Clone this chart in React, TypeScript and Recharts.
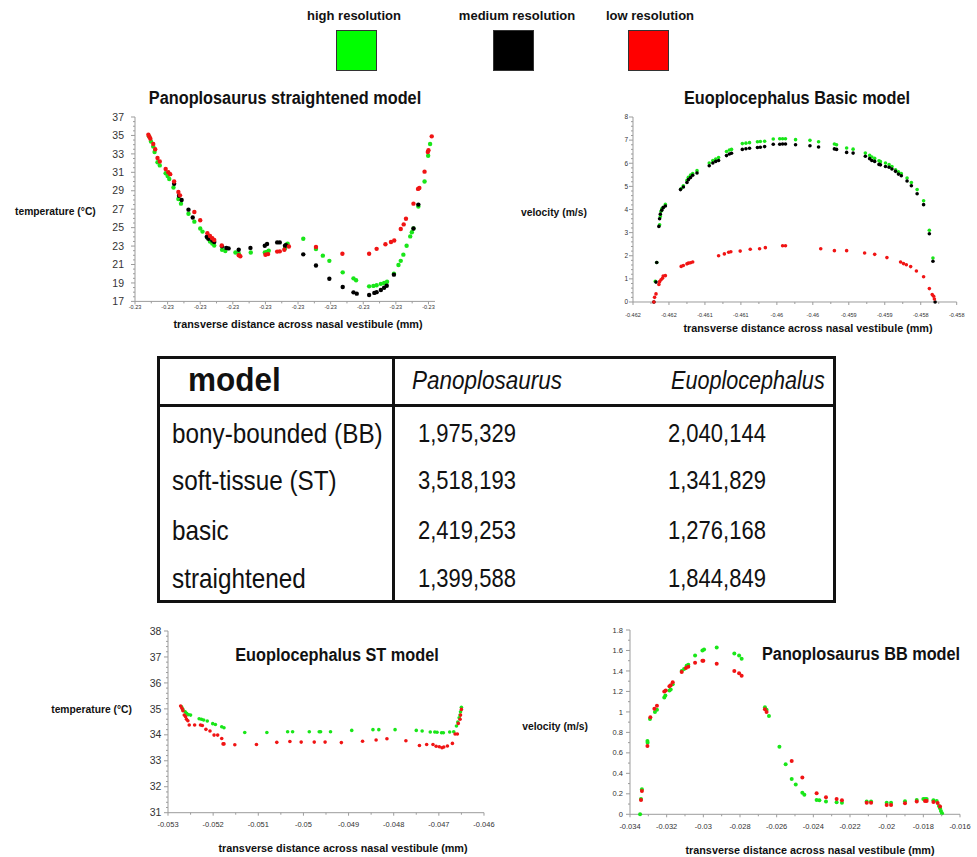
import { ScatterChart, Scatter, XAxis, YAxis } from 'recharts';

type Pt = [number, number];

const AXIS = '#9c9c9c';
const INK = '#333';
const GREEN = '#19e619';
const BLACK = '#000000';
const RED = '#f01414';
const SANS = '"Liberation Sans", Arial, sans-serif';

// ---- Panoplosaurus straightened model: temperature (°C) ----
const straightXTicks = [-0.2309, -0.2308, -0.2307, -0.2306, -0.2305, -0.2304, -0.2303, -0.2302, -0.2301, -0.23];
const straightXLabels = ['-0.23', '-0.23', '-0.23', '-0.23', '-0.23', '-0.23', '-0.23', '-0.23', '-0.23', '-0.23'];
const straightYTicks = [17, 19, 21, 23, 25, 27, 29, 31, 33, 35, 37];
const straightYLabels = ['17', '19', '21', '23', '25', '27', '29', '31', '33', '35', '37'];

const straightHigh: Pt[] = [
  [-0.230857, 34.9], [-0.230851, 34.35], [-0.230844, 33.8], [-0.23084, 33.2], [-0.230831, 32.1],
  [-0.230824, 31.75], [-0.230806, 30.9], [-0.2308, 30.6], [-0.230795, 30.27], [-0.230782, 29.36],
  [-0.230767, 28.1], [-0.230759, 27.6], [-0.230736, 26.5], [-0.230718, 25.65], [-0.2307, 24.9],
  [-0.230693, 24.57], [-0.230678, 23.9], [-0.23067, 23.5], [-0.230663, 23.27], [-0.230657, 23.05],
  [-0.230633, 22.6], [-0.230623, 22.46], [-0.230592, 22.3], [-0.230582, 22.2], [-0.230545, 22.3],
  [-0.230502, 22.3], [-0.230496, 22.35], [-0.23049, 22.5], [-0.23044, 22.75], [-0.230435, 23.18],
  [-0.230432, 23.25], [-0.230384, 23.8], [-0.230345, 22.68], [-0.230324, 21.96], [-0.230304, 21.4],
  [-0.230263, 20.15], [-0.23023, 19.5], [-0.230222, 19.3], [-0.230182, 18.63], [-0.230169, 18.68],
  [-0.230159, 18.75], [-0.230146, 18.9], [-0.230136, 19.0], [-0.230127, 19.13], [-0.230106, 20.0],
  [-0.230092, 20.95], [-0.230085, 21.4], [-0.230077, 22.07], [-0.230067, 23.04], [-0.230056, 24.05],
  [-0.230051, 24.5], [-0.230046, 24.9], [-0.230031, 27.3], [-0.230012, 30.0], [-0.230001, 32.8],
  [-0.229995, 34.07],
];
const straightMedium: Pt[] = [
  [-0.23078, 29.75], [-0.230765, 28.46], [-0.230757, 28.0], [-0.230736, 26.95], [-0.230723, 26.1],
  [-0.23068, 24.0], [-0.230675, 23.8], [-0.230663, 23.6], [-0.230657, 23.45], [-0.230633, 22.97],
  [-0.23062, 22.8], [-0.230613, 22.75], [-0.230582, 22.6], [-0.230546, 22.8], [-0.230502, 23.04],
  [-0.230495, 23.23], [-0.230464, 23.4], [-0.230456, 23.4], [-0.23044, 23.04], [-0.230437, 23.1],
  [-0.230384, 22.1], [-0.230345, 20.9], [-0.230304, 19.46], [-0.230263, 18.56], [-0.23023, 17.98],
  [-0.23022, 17.84], [-0.230182, 17.7], [-0.230166, 17.92], [-0.230159, 18.0], [-0.230146, 18.24],
  [-0.230136, 18.48], [-0.230128, 18.7], [-0.230106, 19.9], [-0.230046, 24.9], [-0.230031, 27.5],
];
const straightLow: Pt[] = [
  [-0.230859, 35.08], [-0.230856, 34.85], [-0.230853, 34.65], [-0.230844, 34.07], [-0.230838, 33.5],
  [-0.230831, 32.55], [-0.230824, 32.18], [-0.230806, 31.36], [-0.230798, 31.0], [-0.230792, 30.8],
  [-0.23078, 30.0], [-0.230767, 28.87], [-0.230762, 28.5], [-0.230718, 26.7], [-0.2307, 25.8],
  [-0.230678, 24.4], [-0.23067, 24.1], [-0.230663, 23.85], [-0.230657, 23.66], [-0.230634, 23.07],
  [-0.230582, 22.0], [-0.230577, 21.9], [-0.2305, 22.06], [-0.230492, 22.13], [-0.230464, 22.4],
  [-0.230456, 22.43], [-0.230442, 22.6], [-0.230428, 22.95], [-0.230345, 22.9], [-0.230264, 22.17],
  [-0.230182, 22.17], [-0.230159, 22.7], [-0.230132, 23.2], [-0.230115, 23.44], [-0.230105, 23.6],
  [-0.230085, 24.85], [-0.230076, 25.35], [-0.230069, 25.97], [-0.230046, 27.6], [-0.230032, 29.2],
  [-0.230028, 29.3], [-0.230012, 31.07], [-0.230002, 33.2], [-0.2300, 33.4], [-0.22999, 34.9],
];

// ---- Euoplocephalus basic model: velocity (m/s) ----
const basicXTicks = [-0.462, -0.4615, -0.461, -0.4605, -0.46, -0.4595, -0.459, -0.4585, -0.458, -0.4575];
const basicXLabels = ['-0.462', '-0.462', '-0.461', '-0.461', '-0.46', '-0.46', '-0.459', '-0.459', '-0.458', '-0.458'];
const basicYTicks = [0, 1, 2, 3, 4, 5, 6, 7, 8];
const basicYLabels = ['0', '1', '2', '3', '4', '5', '6', '7', '8'];

const basicHigh: Pt[] = [
  [-0.46169, 0.89], [-0.46167, 1.71], [-0.46163, 3.34], [-0.46162, 3.7], [-0.46161, 3.92],
  [-0.4616, 4.03], [-0.46158, 4.1], [-0.46155, 4.22], [-0.46133, 4.91], [-0.4613, 5.03],
  [-0.46125, 5.26], [-0.46123, 5.39], [-0.4612, 5.49], [-0.46117, 5.56], [-0.46111, 5.68],
  [-0.46094, 6.01], [-0.46089, 6.12], [-0.46085, 6.18], [-0.46081, 6.25], [-0.4607, 6.51],
  [-0.46066, 6.57], [-0.46063, 6.6], [-0.46048, 6.85], [-0.46043, 6.87], [-0.46038, 6.89],
  [-0.46027, 6.93], [-0.46023, 6.94], [-0.46017, 6.95], [-0.46005, 7.05], [-0.45996, 7.06],
  [-0.45992, 7.06], [-0.45988, 7.06], [-0.45974, 7.02], [-0.45954, 6.99], [-0.45942, 6.93],
  [-0.4592, 6.83], [-0.45917, 6.8], [-0.45903, 6.66], [-0.45894, 6.61], [-0.45877, 6.44],
  [-0.45871, 6.34], [-0.45868, 6.27], [-0.45864, 6.21], [-0.45858, 6.11], [-0.45856, 6.07],
  [-0.45849, 6.01], [-0.45844, 5.94], [-0.4584, 5.86], [-0.45835, 5.72], [-0.45831, 5.63],
  [-0.45827, 5.55], [-0.45819, 5.36], [-0.45813, 5.17], [-0.45805, 4.86], [-0.45796, 4.38],
  [-0.45788, 3.1], [-0.45783, 1.9],
];
const basicMedium: Pt[] = [
  [-0.46171, 0], [-0.46168, 0.86], [-0.46167, 1.71], [-0.46164, 3.27], [-0.46163, 3.6],
  [-0.46162, 3.8], [-0.4616, 3.97], [-0.46158, 4.08], [-0.46155, 4.15], [-0.46134, 4.86],
  [-0.4613, 4.97], [-0.46125, 5.17], [-0.46123, 5.29], [-0.4612, 5.38], [-0.46117, 5.48],
  [-0.46111, 5.58], [-0.46094, 5.89], [-0.46089, 6.01], [-0.46085, 6.08], [-0.46081, 6.12],
  [-0.4607, 6.33], [-0.46066, 6.4], [-0.46063, 6.43], [-0.46048, 6.6], [-0.46043, 6.63],
  [-0.46038, 6.65], [-0.46027, 6.68], [-0.46023, 6.69], [-0.46017, 6.72], [-0.46005, 6.82],
  [-0.45996, 6.82], [-0.45992, 6.83], [-0.45988, 6.83], [-0.45974, 6.8], [-0.45954, 6.76],
  [-0.45942, 6.7], [-0.4592, 6.62], [-0.45917, 6.6], [-0.45903, 6.47], [-0.45894, 6.44],
  [-0.45877, 6.3], [-0.45871, 6.2], [-0.45868, 6.12], [-0.45864, 6.08], [-0.45858, 5.95],
  [-0.45856, 5.93], [-0.45849, 5.86], [-0.45844, 5.83], [-0.4584, 5.75], [-0.45835, 5.65],
  [-0.45831, 5.53], [-0.45827, 5.46], [-0.45819, 5.23], [-0.45813, 5.03], [-0.45805, 4.68],
  [-0.45796, 4.21], [-0.45788, 2.95], [-0.45783, 1.76], [-0.4578, 0],
];
const basicLow: Pt[] = [
  [-0.46171, 0], [-0.4617, 0.2], [-0.46168, 0.35], [-0.46164, 0.76], [-0.46163, 0.88],
  [-0.46161, 0.96], [-0.46159, 1.03], [-0.46158, 1.12], [-0.46155, 1.14], [-0.46133, 1.54],
  [-0.4613, 1.58], [-0.46125, 1.65], [-0.46123, 1.68], [-0.4612, 1.7], [-0.46117, 1.73],
  [-0.46081, 2.0], [-0.46073, 2.08], [-0.46067, 2.15], [-0.46064, 2.17], [-0.46051, 2.2],
  [-0.46037, 2.28], [-0.46024, 2.3], [-0.46016, 2.35], [-0.45992, 2.43], [-0.45988, 2.43],
  [-0.45939, 2.3], [-0.4592, 2.22], [-0.45903, 2.22], [-0.45878, 2.12], [-0.45864, 2.06],
  [-0.45847, 1.92], [-0.45828, 1.73], [-0.45824, 1.66], [-0.4582, 1.61], [-0.45814, 1.53],
  [-0.45806, 1.34], [-0.45796, 1.09], [-0.45788, 0.58], [-0.45784, 0.32], [-0.45782, 0.25],
  [-0.45781, 0.13],
];

// ---- Euoplocephalus ST model: temperature (°C) ----
const stXTicks = [-0.053, -0.052, -0.051, -0.05, -0.049, -0.048, -0.047, -0.046];
const stXLabels = ['-0.053', '-0.052', '-0.051', '-0.05', '-0.049', '-0.048', '-0.047', '-0.046'];
const stYTicks = [31, 32, 33, 34, 35, 36, 37, 38];
const stYLabels = ['31', '32', '33', '34', '35', '36', '37', '38'];

const stHigh: Pt[] = [
  [-0.0527, 35.08], [-0.05267, 34.98], [-0.05262, 34.89], [-0.05259, 34.83], [-0.05255, 34.78],
  [-0.0525, 34.76], [-0.05231, 34.62], [-0.05226, 34.6], [-0.05221, 34.57], [-0.05213, 34.53],
  [-0.05201, 34.43], [-0.05195, 34.4], [-0.05181, 34.31], [-0.05176, 34.27], [-0.0513, 34.09],
  [-0.05081, 34.09], [-0.05035, 34.12], [-0.05024, 34.12], [-0.04987, 34.12], [-0.04965, 34.12],
  [-0.04962, 34.12], [-0.0494, 34.12], [-0.04893, 34.17], [-0.04846, 34.2], [-0.04833, 34.2],
  [-0.04797, 34.2], [-0.0475, 34.17], [-0.04737, 34.15], [-0.04719, 34.11], [-0.04709, 34.11],
  [-0.04704, 34.1], [-0.04694, 34.08], [-0.0469, 34.08], [-0.04676, 34.11], [-0.04667, 34.12],
  [-0.04661, 34.34], [-0.04658, 34.49], [-0.04655, 34.66], [-0.04653, 34.76], [-0.04652, 34.89],
  [-0.0465, 35.06],
];
const stLow: Pt[] = [
  [-0.05272, 35.11], [-0.05269, 35.02], [-0.05267, 34.93], [-0.05264, 34.76], [-0.05261, 34.7],
  [-0.05259, 34.6], [-0.05256, 34.54], [-0.05253, 34.38], [-0.05241, 34.38], [-0.05228, 34.38],
  [-0.05224, 34.36], [-0.05216, 34.21], [-0.05207, 34.15], [-0.05198, 33.99], [-0.0519, 33.99],
  [-0.05181, 33.86], [-0.05178, 33.65], [-0.05176, 33.65], [-0.05152, 33.62], [-0.05104, 33.63],
  [-0.05059, 33.71], [-0.0503, 33.74], [-0.05005, 33.72], [-0.04976, 33.72], [-0.04952, 33.72],
  [-0.04916, 33.7], [-0.04869, 33.75], [-0.04839, 33.8], [-0.04815, 33.85], [-0.04773, 33.77],
  [-0.04743, 33.59], [-0.04727, 33.63], [-0.04713, 33.63], [-0.04706, 33.56], [-0.04699, 33.54],
  [-0.04693, 33.5], [-0.04689, 33.53], [-0.04681, 33.57], [-0.0467, 33.67], [-0.04664, 34.03],
  [-0.04659, 34.03], [-0.04657, 34.44], [-0.04653, 34.6], [-0.04652, 34.76], [-0.0465, 34.98],
];

// ---- Panoplosaurus BB model: velocity (m/s) ----
const bbXTicks = [-0.034, -0.032, -0.03, -0.028, -0.026, -0.024, -0.022, -0.02, -0.018, -0.016];
const bbXLabels = ['-0.034', '-0.032', '-0.03', '-0.028', '-0.026', '-0.024', '-0.022', '-0.02', '-0.018', '-0.016'];
const bbYTicks = [0, 0.2, 0.4, 0.6, 0.8, 1, 1.2, 1.4, 1.6, 1.8];
const bbYLabels = ['0', '0.2', '0.4', '0.6', '0.8', '1', '1.2', '1.4', '1.6', '1.8'];

const bbHigh: Pt[] = [
  [-0.03345, 0], [-0.0334, 0.15], [-0.03335, 0.244], [-0.03305, 0.716], [-0.03304, 0.7],
  [-0.03291, 0.93], [-0.03264, 1.0], [-0.03253, 1.02], [-0.03213, 1.14], [-0.03207, 1.16],
  [-0.03185, 1.21], [-0.03178, 1.22], [-0.03167, 1.27], [-0.03118, 1.4], [-0.03105, 1.42],
  [-0.03091, 1.45], [-0.03082, 1.46], [-0.03045, 1.55], [-0.03005, 1.6], [-0.02996, 1.61],
  [-0.02927, 1.63], [-0.02831, 1.57], [-0.02805, 1.55], [-0.02791, 1.52], [-0.02664, 1.045],
  [-0.02655, 1.02], [-0.02642, 0.96], [-0.02585, 0.66], [-0.02551, 0.49], [-0.02518, 0.345],
  [-0.02496, 0.29], [-0.0246, 0.21], [-0.02449, 0.19], [-0.02382, 0.14], [-0.02367, 0.137],
  [-0.02331, 0.124], [-0.02273, 0.117], [-0.02244, 0.114], [-0.02109, 0.124], [-0.02085, 0.124],
  [-0.02, 0.114], [-0.01976, 0.114], [-0.019, 0.127], [-0.01836, 0.14], [-0.018, 0.15],
  [-0.01791, 0.15], [-0.01782, 0.15], [-0.01745, 0.137], [-0.01727, 0.13], [-0.01715, 0.08],
  [-0.01709, 0.06], [-0.01704, 0.033], [-0.01698, 0.01],
];
const bbLow: Pt[] = [
  [-0.0334, 0.14], [-0.03335, 0.228], [-0.03305, 0.667], [-0.03289, 0.947], [-0.03267, 1.03],
  [-0.03253, 1.06], [-0.03213, 1.2], [-0.03205, 1.21], [-0.03185, 1.25], [-0.03178, 1.26],
  [-0.03167, 1.29], [-0.03118, 1.39], [-0.03095, 1.43], [-0.03082, 1.44], [-0.03045, 1.48],
  [-0.03005, 1.5], [-0.03, 1.5], [-0.02927, 1.47], [-0.02831, 1.4], [-0.02805, 1.377],
  [-0.02791, 1.354], [-0.02664, 1.025], [-0.02655, 1.0], [-0.02518, 0.52], [-0.0246, 0.36],
  [-0.02382, 0.205], [-0.02331, 0.166], [-0.02273, 0.15], [-0.02244, 0.137], [-0.02109, 0.114],
  [-0.02085, 0.114], [-0.02, 0.09], [-0.01976, 0.09], [-0.019, 0.107], [-0.01836, 0.124],
  [-0.01791, 0.13], [-0.01782, 0.13], [-0.01745, 0.12], [-0.01722, 0.11], [-0.01709, 0.075],
];

// ---- mesh sizes table ----
const meshModels = ['bony-bounded (BB)', 'soft-tissue (ST)', 'basic', 'straightened'];
const meshPanoplosaurus = ['1,975,329', '3,518,193', '2,419,253', '1,399,588'];
const meshEuoplocephalus = ['2,040,144', '1,341,829', '1,276,168', '1,844,849'];

const legendItems = [
  { label: 'high resolution', color: '#00ff00', cx: 354, box: 336 },
  { label: 'medium resolution', color: '#000000', cx: 517, box: 493 },
  { label: 'low resolution', color: '#ff0000', cx: 650, box: 628 },
];

// subdivide each major interval into (per + 1) steps
function minorTicks(major: number[], per: number) {
  const out: number[] = [];
  for (let i = 0; i < major.length - 1; i++) {
    const step = (major[i + 1] - major[i]) / (per + 1);
    for (let k = 1; k <= per; k++) out.push(major[i] + step * k);
  }
  return out;
}

type Series = { name: string; data: Pt[]; color: string };

type PanelProps = {
  plotLeft: number;
  plotTop: number;
  plotW: number;
  plotH: number;
  xDomain: [number, number];
  yDomain: [number, number];
  xTicks: number[];
  xLabels: string[];
  xMinor: number;
  yTicks: number[];
  yLabels: string[];
  yMinor: number;
  xFont: number;
  yFont: number;
  xGap: number;
  yGap: number;
  r: number;
  series: Series[];
};

const PAD_L = 45;
const PAD_T = 10;
const PAD_R = 16;
const PAD_B = 30;

function Panel(p: PanelProps) {
  const xAll = [...p.xTicks, ...minorTicks(p.xTicks, p.xMinor)].sort((a, b) => a - b);
  const yAll = [...p.yTicks, ...minorTicks(p.yTicks, p.yMinor)].sort((a, b) => a - b);
  const find = (arr: number[], v: number) => arr.findIndex((m) => Math.abs(m - v) < 1e-10);

  const xTick = (t: any) => {
    const i = find(p.xTicks, t.payload.value);
    return (
      <g>
        <line x1={t.x} x2={t.x} y1={t.y} y2={t.y + (i >= 0 ? 3 : 2)} stroke={AXIS} />
        {i >= 0 && (
          <text x={t.x} y={t.y + p.xGap} dy="0.35em" textAnchor="middle" fontSize={p.xFont} fill={INK} fontFamily={SANS}>
            {p.xLabels[i]}
          </text>
        )}
      </g>
    );
  };
  const yTick = (t: any) => {
    const i = find(p.yTicks, t.payload.value);
    return (
      <g>
        <line x1={t.x - (i >= 0 ? 4 : 2)} x2={t.x} y1={t.y} y2={t.y} stroke={AXIS} />
        {i >= 0 && (
          <text x={t.x - p.yGap} y={t.y} dy="0.35em" textAnchor="end" fontSize={p.yFont} fill={INK} fontFamily={SANS}>
            {p.yLabels[i]}
          </text>
        )}
      </g>
    );
  };

  return (
    <div style={{ position: 'absolute', left: p.plotLeft - PAD_L, top: p.plotTop - PAD_T }}>
      <ScatterChart
        width={p.plotW + PAD_L + PAD_R}
        height={p.plotH + PAD_T + PAD_B}
        margin={{ top: PAD_T, right: PAD_R, bottom: 0, left: 0 }}
      >
        <XAxis
          type="number"
          dataKey="x"
          domain={p.xDomain}
          ticks={xAll}
          interval={0}
          height={PAD_B}
          tickSize={0}
          tickMargin={0}
          axisLine={{ stroke: AXIS }}
          tickLine={false}
          tick={xTick}
        />
        <YAxis
          type="number"
          dataKey="y"
          domain={p.yDomain}
          ticks={yAll}
          interval={0}
          width={PAD_L}
          tickSize={0}
          tickMargin={0}
          axisLine={{ stroke: AXIS }}
          tickLine={false}
          tick={yTick}
        />
        {p.series.map((s) => (
          <Scatter
            key={s.name}
            name={s.name}
            data={s.data.map(([x, y]) => ({ x, y }))}
            isAnimationActive={false}
            shape={(d: any) => <circle cx={d.cx} cy={d.cy} r={p.r} fill={s.color} />}
          />
        ))}
      </ScatterChart>
    </div>
  );
}

function Text(props: { x: number; y: number; size: number; children: any; align?: 'left' | 'center' | 'right'; bold?: boolean; italic?: boolean; stretch?: number }) {
  const align = props.align ?? 'center';
  const tx = align === 'center' ? '-50%' : align === 'right' ? '-100%' : '0';
  return (
    <div
      style={{
        position: 'absolute',
        left: props.x,
        top: props.y,
        transform: `translate(${tx}, -50%) scaleY(${props.stretch ?? 1})`,
        transformOrigin: 'center',
        whiteSpace: 'nowrap',
        fontFamily: SANS,
        fontSize: props.size,
        fontWeight: props.bold ? 700 : 400,
        fontStyle: props.italic ? 'italic' : 'normal',
        color: '#111',
        lineHeight: 1,
      }}
    >
      {props.children}
    </div>
  );
}

const X_TITLE = 'transverse distance across nasal vestibule (mm)';

export default function App() {
  const rows = [434, 481, 531, 579];
  return (
    <div style={{ position: 'absolute', left: 0, top: 0, width: 977, height: 857, overflow: 'hidden', background: '#fff' }}>
      {legendItems.map((l) => (
        <div key={l.label}>
          <Text x={l.cx} y={15} size={13} bold>
            {l.label}
          </Text>
          <div
            style={{
              position: 'absolute',
              left: l.box,
              top: 30,
              width: 41,
              height: 41,
              background: l.color,
              border: '1px solid #333',
              boxSizing: 'border-box',
            }}
          />
        </div>
      ))}

      <Text x={285} y={98} size={16.3} bold stretch={1.08}>
        Panoplosaurus straightened model
      </Text>
      <Text x={15} y={212} size={10.3} bold align="left">
        temperature (°C)
      </Text>
      <Text x={298} y={324} size={10.8} bold>
        {X_TITLE}
      </Text>
      <Panel
        plotLeft={135}
        plotTop={117.3}
        plotW={300}
        plotH={184.4}
        xDomain={[-0.2309, -0.22998]}
        yDomain={[17, 37]}
        xTicks={straightXTicks}
        xLabels={straightXLabels}
        xMinor={1}
        yTicks={straightYTicks}
        yLabels={straightYLabels}
        yMinor={3}
        xFont={5.5}
        yFont={10.5}
        xGap={5.5}
        yGap={11}
        r={2.2}
        series={[
          { name: 'high resolution', data: straightHigh, color: GREEN },
          { name: 'medium resolution', data: straightMedium, color: BLACK },
          { name: 'low resolution', data: straightLow, color: RED },
        ]}
      />

      <Text x={797} y={98} size={16.3} bold stretch={1.08}>
        Euoplocephalus Basic model
      </Text>
      <Text x={521} y={213} size={10.3} bold align="left">
        velocity (m/s)
      </Text>
      <Text x={808} y={328} size={10.8} bold>
        {X_TITLE}
      </Text>
      <Panel
        plotLeft={633.3}
        plotTop={117.3}
        plotW={323.7}
        plotH={185}
        xDomain={[-0.462, -0.4575]}
        yDomain={[0, 8]}
        xTicks={basicXTicks}
        xLabels={basicXLabels}
        xMinor={1}
        yTicks={basicYTicks}
        yLabels={basicYLabels}
        yMinor={4}
        xFont={5.5}
        yFont={6.5}
        xGap={12.7}
        yGap={5}
        r={1.8}
        series={[
          { name: 'high resolution', data: basicHigh, color: GREEN },
          { name: 'medium resolution', data: basicMedium, color: BLACK },
          { name: 'low resolution', data: basicLow, color: RED },
        ]}
      />

      {/* mesh size table */}
      <div
        style={{
          position: 'absolute',
          left: 157,
          top: 356,
          width: 679,
          height: 247,
          border: '3px solid #111',
          boxSizing: 'border-box',
        }}
      />
      <div style={{ position: 'absolute', left: 392, top: 357, width: 2.5, height: 245, background: '#111' }} />
      <div style={{ position: 'absolute', left: 158, top: 404, width: 677, height: 2.5, background: '#111' }} />
      <Text x={188} y={380} size={31.5} bold align="left" stretch={1.08}>
        model
      </Text>
      <Text x={412} y={381} size={22.5} italic align="left" stretch={1.15}>
        Panoplosaurus
      </Text>
      <Text x={671} y={381} size={21.6} italic align="left" stretch={1.18}>
        Euoplocephalus
      </Text>
      {meshModels.map((m, i) => (
        <div key={m}>
          <Text x={172} y={rows[i]} size={24.3} align="left" stretch={1.1}>
            {m}
          </Text>
          <Text x={418} y={rows[i]} size={22} align="left" stretch={1.18}>
            {meshPanoplosaurus[i]}
          </Text>
          <Text x={668} y={rows[i]} size={22} align="left" stretch={1.18}>
            {meshEuoplocephalus[i]}
          </Text>
        </div>
      ))}

      <Text x={337} y={655} size={16.3} bold stretch={1.08}>
        Euoplocephalus ST model
      </Text>
      <Text x={132} y={710} size={10.3} bold align="right">
        temperature (°C)
      </Text>
      <Text x={343} y={848} size={10.8} bold>
        {X_TITLE}
      </Text>
      <Panel
        plotLeft={168.3}
        plotTop={631}
        plotW={316}
        plotH={181.7}
        xDomain={[-0.053, -0.046]}
        yDomain={[31, 38]}
        xTicks={stXTicks}
        xLabels={stXLabels}
        xMinor={1}
        yTicks={stYTicks}
        yLabels={stYLabels}
        yMinor={4}
        xFont={7.5}
        yFont={10.5}
        xGap={11.3}
        yGap={6.6}
        r={1.8}
        series={[
          { name: 'high resolution', data: stHigh, color: GREEN },
          { name: 'low resolution', data: stLow, color: RED },
        ]}
      />

      <Text x={762} y={654} size={16.3} bold align="left" stretch={1.08}>
        Panoplosaurus BB model
      </Text>
      <Text x={588} y={727} size={10.3} bold align="right">
        velocity (m/s)
      </Text>
      <Text x={810} y={850} size={10.8} bold>
        {X_TITLE}
      </Text>
      <Panel
        plotLeft={630}
        plotTop={630}
        plotW={330}
        plotH={184.3}
        xDomain={[-0.034, -0.016]}
        yDomain={[0, 1.8]}
        xTicks={bbXTicks}
        xLabels={bbXLabels}
        xMinor={1}
        yTicks={bbYTicks}
        yLabels={bbYLabels}
        yMinor={1}
        xFont={7.5}
        yFont={7.5}
        xGap={12.4}
        yGap={7}
        r={2}
        series={[
          { name: 'high resolution', data: bbHigh, color: GREEN },
          { name: 'low resolution', data: bbLow, color: RED },
        ]}
      />
    </div>
  );
}
